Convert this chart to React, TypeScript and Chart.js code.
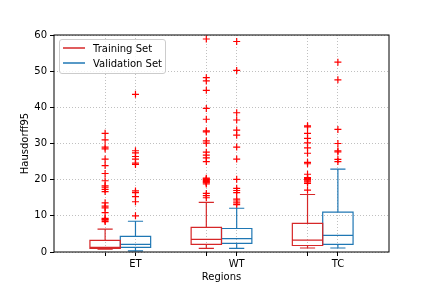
import React, { useEffect, useRef } from "react";
import { Chart, registerables } from "chart.js";

Chart.register(...registerables);

// ---- data ----
const categories = ["ET", "WT", "TC"];
const groupCenters = [1, 2, 3];
const tickLabels = ["", "ET", "", "WT", "", "TC"];
const yTicks = [0, 10, 20, 30, 40, 50, 60];

const trainQ1 = [1.0, 2.1, 1.8];
const trainMed = [1.3, 3.5, 3.3];
const trainQ3 = [3.2, 6.8, 7.9];
const trainLo = [0.8, 1.0, 1.1];
const trainHi = [6.3, 13.7, 15.9];

const valQ1 = [1.3, 2.4, 2.1];
const valMed = [2.1, 3.7, 4.6];
const valQ3 = [4.3, 6.5, 11.0];
const valLo = [0.3, 1.0, 1.1];
const valHi = [8.5, 12.1, 22.9];

const trainOutliersET = [32.8, 31.0, 29.0, 28.5, 25.7, 23.9, 21.7, 19.7, 18.3, 17.9, 17.3, 16.7, 13.6, 12.7, 12.2, 10.9, 9.3, 9.0, 8.8, 8.4];
const trainOutliersWT = [58.9, 48.2, 47.3, 44.7, 39.7, 36.7, 33.5, 33.2, 30.7, 30.1, 27.6, 26.8, 26.0, 25.0, 20.4, 20.2, 20.0, 19.8, 19.5, 19.3, 19.1, 18.8, 16.2, 15.6, 15.0];
const trainOutliersTC = [34.9, 34.6, 32.8, 31.4, 30.2, 28.8, 27.3, 24.8, 24.4, 21.5, 20.6, 20.3, 20.0, 19.7, 19.4, 19.0, 17.1];

const valOutliersET = [43.6, 28.0, 27.4, 26.4, 25.7, 24.6, 24.2, 16.9, 16.4, 15.3, 13.9, 10.0];
const valOutliersWT = [58.2, 50.2, 38.5, 36.5, 33.7, 32.3, 29.0, 25.7, 20.1, 17.6, 17.0, 16.4, 14.6, 14.1, 13.6, 13.1];
const valOutliersTC = [52.5, 47.6, 33.9, 30.0, 28.0, 27.7, 25.6, 25.0];

const trainOutliers = [trainOutliersET, trainOutliersWT, trainOutliersTC];
const valOutliers = [valOutliersET, valOutliersWT, valOutliersTC];

// ---- style ----
const TRAIN_COLOR = "#d62728";
const VAL_COLOR = "#1f77b4";
const OUTLIER_COLOR = "#ff0000";
const OFFSET = 0.15;
const BOX_W = 0.3;
const FONT = "'DejaVu Sans', sans-serif";

type P = { x: number; y: number | null };

function boxPath(pos: number, q1: number, med: number, q3: number, lo: number, hi: number): P[] {
  const h = BOX_W / 2;
  const c = BOX_W / 4;
  const gap = { x: pos, y: null };
  return [
    { x: pos - h, y: q1 }, { x: pos + h, y: q1 }, { x: pos + h, y: q3 }, { x: pos - h, y: q3 }, { x: pos - h, y: q1 }, { x: pos + h, y: q1 }, gap,
    { x: pos - h, y: med }, { x: pos + h, y: med }, gap,
    { x: pos, y: q3 }, { x: pos, y: hi }, gap,
    { x: pos - c, y: hi }, { x: pos + c, y: hi }, gap,
    { x: pos, y: q1 }, { x: pos, y: lo }, gap,
    { x: pos - c, y: lo }, { x: pos + c, y: lo }, gap,
  ];
}

const framePlugin = {
  id: "frame",
  afterDatasetsDraw(chart: any) {
    const { ctx, chartArea } = chart;
    ctx.save();
    ctx.strokeStyle = "#000";
    ctx.lineWidth = 1;
    ctx.strokeRect(chartArea.left, chartArea.top, chartArea.right - chartArea.left, chartArea.bottom - chartArea.top);
    ctx.restore();
  },
};

export default function App() {
  const ref = useRef<HTMLCanvasElement | null>(null);

  useEffect(() => {
    if (!ref.current) return;
    const trainPos = groupCenters.map((g) => g - OFFSET);
    const valPos = groupCenters.map((g) => g + OFFSET);
    const xTickValues: number[] = [];
    categories.forEach((_, i) => {
      xTickValues.push(trainPos[i], valPos[i]);
    });

    const trainBoxes: P[] = [];
    const valBoxes: P[] = [];
    const trainOut: P[] = [];
    const valOut: P[] = [];
    categories.forEach((_, i) => {
      trainBoxes.push(...boxPath(trainPos[i], trainQ1[i], trainMed[i], trainQ3[i], trainLo[i], trainHi[i]));
      valBoxes.push(...boxPath(valPos[i], valQ1[i], valMed[i], valQ3[i], valLo[i], valHi[i]));
      trainOutliers[i].forEach((v) => trainOut.push({ x: trainPos[i], y: v }));
      valOutliers[i].forEach((v) => valOut.push({ x: valPos[i], y: v }));
    });

    const lineDs = (label: string, data: P[], color: string) => ({
      label,
      data,
      showLine: true,
      spanGaps: false,
      borderColor: color,
      backgroundColor: color,
      borderWidth: 1.2,
      pointRadius: 0,
      pointHoverRadius: 0,
      borderJoinStyle: "miter",
      borderCapStyle: "butt",
      tension: 0,
    });
    const outDs = (label: string, data: P[]) => ({
      label,
      data,
      showLine: false,
      pointStyle: "cross",
      pointRadius: 3.5,
      pointBorderColor: OUTLIER_COLOR,
      borderColor: OUTLIER_COLOR,
      pointBorderWidth: 1.2,
      backgroundColor: OUTLIER_COLOR,
    });

    const chart = new Chart(ref.current, {
      type: "scatter",
      data: {
        datasets: [
          lineDs("Training Set", trainBoxes, TRAIN_COLOR),
          lineDs("Validation Set", valBoxes, VAL_COLOR),
          outDs("Training outliers", trainOut),
          outDs("Validation outliers", valOut),
        ] as any,
      },
      options: {
        responsive: false,
        animation: false,
        devicePixelRatio: 1,
        layout: { padding: { top: 35, right: 43, left: 0, bottom: 0 } },
        plugins: { legend: { display: false }, tooltip: { enabled: false } },
        scales: {
          x: {
            type: "linear",
            min: 0.345,
            max: 3.655,
            afterBuildTicks: (scale: any) => {
              scale.ticks = xTickValues.map((v) => ({ value: v }));
            },
            afterFit: (scale: any) => {
              scale.height = 36;
            },
            ticks: {
              autoSkip: false,
              maxRotation: 0,
              padding: 2,
              color: "#000",
              font: { family: FONT, size: 10 },
              callback: (_v: any, idx: number) => tickLabels[idx],
            },
            grid: { color: "#b0b0b0", lineWidth: 0.8, tickColor: "#000", tickLength: 4, tickWidth: 1 },
            border: { display: false, dash: [1, 2] },
            title: { display: true, text: "Regions", color: "#000", font: { family: FONT, size: 10 }, padding: { top: 0, bottom: 5 } },
          },
          y: {
            type: "linear",
            min: 0,
            max: 60,
            afterBuildTicks: (scale: any) => {
              scale.ticks = yTicks.map((v) => ({ value: v }));
            },
            afterFit: (scale: any) => {
              scale.width = 54;
            },
            ticks: { padding: 3, color: "#000", font: { family: FONT, size: 10 } },
            grid: { color: "#b0b0b0", lineWidth: 0.8, tickColor: "#000", tickLength: 4, tickWidth: 1 },
            border: { display: false, dash: [1, 2] },
            title: { display: true, text: "Hausdorff95", color: "#000", font: { family: FONT, size: 10 }, padding: { top: 19, bottom: 0 } },
          },
        },
      } as any,
      plugins: [framePlugin],
    });
    return () => chart.destroy();
  }, []);

  const legendItem = (color: string, text: string, top: number) => (
    <div style={{ position: "absolute", left: 3, top, height: 14, display: "flex", alignItems: "center" }}>
      <div style={{ width: 22, height: 2, background: color }} />
      <span style={{ marginLeft: 8, fontFamily: FONT, fontSize: 10, color: "#000", whiteSpace: "nowrap" }}>{text}</span>
    </div>
  );

  return (
    <div style={{ position: "fixed", left: 0, top: 0, width: 432, height: 288, background: "#fff" }}>
      <canvas ref={ref} width={432} height={288} style={{ display: "block", width: 432, height: 288 }} />
      <div
        style={{
          position: "absolute",
          left: 59,
          top: 39,
          width: 105,
          height: 33,
          border: "1px solid #cccccc",
          borderRadius: 3,
          background: "rgba(255,255,255,0.8)",
        }}
      >
        {legendItem("rgba(214,39,40,0.75)", "Training Set", 1)}
        {legendItem("rgba(31,119,180,0.75)", "Validation Set", 16)}
      </div>
    </div>
  );
}
